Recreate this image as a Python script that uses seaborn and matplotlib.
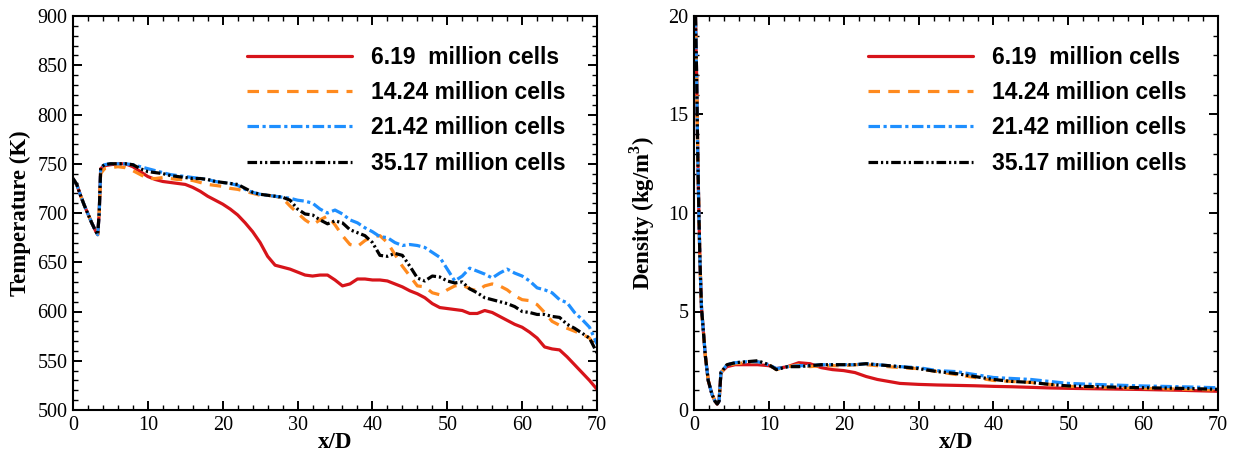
import matplotlib
matplotlib.use("Agg")
import matplotlib.pyplot as plt
import seaborn as sns
from matplotlib.ticker import MultipleLocator
from matplotlib.font_manager import FontProperties

# ---------------- data ----------------
series_labels = ["6.19  million cells", "14.24 million cells",
                 "21.42 million cells", "35.17 million cells"]
series_colors = ["#d7141a", "#ff8a1e", "#1e8fff", "#000000"]

# temperature along the axis (K)
xd_temp = [0, 0.5, 1, 1.5, 2, 2.5, 3, 3.3, 3.5, 3.7, 4.2, 5, 6, 7, 8, 9, 10,
           11, 12, 13, 14, 15, 16, 17, 18, 19, 20, 21, 22, 23, 24, 25, 26, 27,
           28, 29, 30, 31, 32, 33, 34, 35, 36, 37, 38, 39, 40, 41, 42, 43, 44,
           45, 46, 47, 48, 49, 50, 51, 52, 53, 54, 55, 56, 57, 58, 59, 60, 61,
           62, 63, 64, 65, 66, 67, 68, 69, 70]

temp_619 = [735, 729, 718, 708, 699, 690, 682, 678, 700, 745, 748, 749, 750,
            750, 747, 742, 737, 734, 732, 731, 730, 729, 726, 722, 717, 713,
            709, 704, 698, 690, 681, 670, 656, 647, 645, 643, 640, 637, 636,
            637, 637, 632, 626, 628, 633, 633, 632, 632, 631, 628, 625, 621,
            618, 614, 608, 604, 603, 602, 601, 598, 598, 601, 599, 595, 591,
            587, 584, 579, 573, 564, 562, 561, 554, 546, 538, 530, 521]

temp_1424 = [735, 729, 718, 708, 699, 690, 682, 678, 700, 740, 745, 746, 747,
             746, 743, 739, 735, 735, 736, 735, 734, 734, 733, 731, 729, 728,
             727, 725, 724, 722, 720, 718, 718, 717, 715, 707, 700, 693, 688,
             693, 697, 688, 677, 668, 666, 672, 676, 677, 670, 658, 646, 636,
             626, 625, 619, 617, 622, 626, 627, 623, 621, 626, 628, 626, 622,
             616, 612, 611, 607, 599, 590, 586, 583, 580, 577, 573, 561]

temp_2142 = [735, 729, 718, 708, 699, 690, 682, 678, 700, 746, 749, 750, 750,
             750, 749, 747, 745, 743, 741, 739, 738, 737, 736, 735, 734, 732,
             731, 730, 728, 724, 721, 719, 718, 717, 716, 715, 713, 712, 710,
             704, 700, 703, 699, 693, 690, 685, 681, 676, 675, 670, 667, 668,
             667, 665, 660, 655, 643, 631, 636, 644, 641, 638, 634, 639, 643,
             639, 636, 631, 624, 622, 619, 612, 609, 599, 592, 584, 567]

temp_3517 = [735, 729, 718, 708, 699, 690, 682, 678, 700, 746, 749, 750, 750,
             750, 749, 745, 742, 741, 740, 738, 737, 736, 735, 735, 734, 732,
             731, 730, 729, 725, 721, 719, 718, 717, 716, 713, 704, 699, 698,
             693, 689, 692, 690, 683, 680, 677, 670, 657, 656, 659, 657, 646,
             634, 631, 636, 635, 631, 629, 630, 623, 619, 614, 612, 610, 608,
             605, 600, 599, 597, 597, 595, 594, 587, 583, 578, 573, 558]

# density along the axis (kg/m^3)
xd_dens = [0.2, 0.35, 0.5, 0.65, 0.8, 1.0, 1.25, 1.5, 1.9, 2.4, 2.8, 3.1,
           3.35, 3.6, 4.4, 5.5, 7, 8.5, 10, 11, 12.5, 14, 15.5, 17, 18.5, 20,
           21.5, 23, 24.5, 26, 27.5, 30, 32.5, 35, 37.5, 40, 42.5, 45, 47.5,
           50, 55, 60, 65, 70]

dens_619 = [20.0, 17.0, 13.0, 10.0, 7.5, 5.2, 4.0, 2.8, 1.5, 0.8, 0.45, 0.3,
            0.45, 1.9, 2.2, 2.3, 2.3, 2.3, 2.25, 2.1, 2.2, 2.4, 2.35, 2.15,
            2.05, 2.0, 1.9, 1.7, 1.55, 1.45, 1.35, 1.3, 1.27, 1.25, 1.23, 1.2,
            1.18, 1.15, 1.12, 1.1, 1.07, 1.04, 1.0, 0.95]

dens_1424 = [20.0, 17.0, 13.0, 10.0, 7.5, 5.2, 4.0, 2.8, 1.5, 0.8, 0.45, 0.3,
             0.45, 1.9, 2.25, 2.35, 2.4, 2.45, 2.3, 2.05, 2.2, 2.3, 2.2, 2.25,
             2.25, 2.25, 2.3, 2.3, 2.25, 2.2, 2.15, 2.1, 1.95, 1.8, 1.65, 1.5,
             1.45, 1.4, 1.3, 1.2, 1.15, 1.1, 1.06, 1.02]

dens_2142 = [20.0, 17.0, 13.0, 10.0, 7.5, 5.2, 4.0, 2.8, 1.5, 0.8, 0.45, 0.3,
             0.45, 1.9, 2.3, 2.4, 2.45, 2.45, 2.3, 2.1, 2.2, 2.25, 2.25, 2.3,
             2.3, 2.3, 2.3, 2.35, 2.3, 2.25, 2.2, 2.15, 2.0, 1.95, 1.8, 1.65,
             1.6, 1.55, 1.45, 1.35, 1.28, 1.22, 1.18, 1.13]

dens_3517 = [20.0, 17.0, 13.0, 10.0, 7.5, 5.2, 4.0, 2.8, 1.5, 0.8, 0.45, 0.3,
             0.45, 1.9, 2.3, 2.4, 2.45, 2.5, 2.3, 2.05, 2.2, 2.2, 2.25, 2.3,
             2.3, 2.3, 2.3, 2.35, 2.3, 2.25, 2.2, 2.1, 1.95, 1.85, 1.7, 1.55,
             1.45, 1.4, 1.3, 1.22, 1.17, 1.13, 1.1, 1.05]

temp_series = [temp_619, temp_1424, temp_2142, temp_3517]
dens_series = [dens_619, dens_1424, dens_2142, dens_3517]

# ---------------- style ----------------
sns.set_theme(style="ticks")
plt.rcParams["font.family"] = ["Liberation Serif", "DejaVu Serif"]
plt.rcParams["mathtext.fontset"] = "custom"
plt.rcParams["mathtext.rm"] = "Liberation Serif"
plt.rcParams["mathtext.bf"] = "Liberation Serif:bold"
for key in ("text.color", "axes.labelcolor", "xtick.color", "ytick.color",
            "xtick.labelcolor", "ytick.labelcolor", "axes.edgecolor"):
    plt.rcParams[key] = "black"

line_styles = ["-", (0, (3.6, 2.6)), (0, (3.6, 1.1, 1.0, 1.1)),
               (0, (3.0, 0.9, 0.7, 0.9, 0.7, 0.9))]
line_width = 2.3

fig = plt.figure(figsize=(12.36, 4.55), dpi=100)
ax_t = fig.add_axes([73 / 1236, 45 / 455, 524 / 1236, 394 / 455])
ax_d = fig.add_axes([694 / 1236, 45 / 455, 524 / 1236, 394 / 455])

legend_font = FontProperties(family="Liberation Sans", weight="bold", size=16.5)


def draw_panel(ax, xs, ys_list, ylim, ymajor, yminor, ylabel, label_x):
    for ys, lab, col, ls in zip(ys_list, series_labels, series_colors, line_styles):
        sns.lineplot(x=xs, y=ys, ax=ax, color=col, linewidth=line_width,
                     linestyle=ls, label=lab, errorbar=None, sort=False)
    ax.set_xlim(0, 70)
    ax.set_ylim(*ylim)
    ax.xaxis.set_major_locator(MultipleLocator(10))
    ax.xaxis.set_minor_locator(MultipleLocator(2))
    ax.yaxis.set_major_locator(MultipleLocator(ymajor))
    ax.yaxis.set_minor_locator(MultipleLocator(yminor))
    ax.tick_params(which="both", direction="in", top=True, right=True,
                   color="black", labelsize=14.5, labelcolor="black")
    ax.tick_params(which="major", length=6.5, width=1.4, pad=4)
    ax.tick_params(which="minor", length=3.3, width=1.0)
    for sp in ax.spines.values():
        sp.set_linewidth(1.5)
        sp.set_color("black")
    ax.set_xlabel("x/D", fontsize=16.5, fontweight="bold", labelpad=-1.5,
                  color="black")
    ax.set_ylabel(ylabel, fontsize=16.5, fontweight="bold", color="black")
    ax.yaxis.set_label_coords(label_x, 0.5)
    leg = ax.legend(loc="upper left", bbox_to_anchor=(0.332, 0.925),
                    frameon=False, borderpad=0, borderaxespad=0,
                    handlelength=4.6, handletextpad=0.8, labelspacing=0.54,
                    prop=legend_font)
    for txt in leg.get_texts():
        txt.set_color("black")


draw_panel(ax_t, xd_temp, temp_series, (500, 900), 50, 10,
           "Temperature (K)", -0.08)
draw_panel(ax_d, xd_dens, dens_series, (0, 20), 5, 1,
           r"Density (kg/m$^{\mathbf{3}}$)", -0.071)

fig.savefig("out.png", dpi=100)
